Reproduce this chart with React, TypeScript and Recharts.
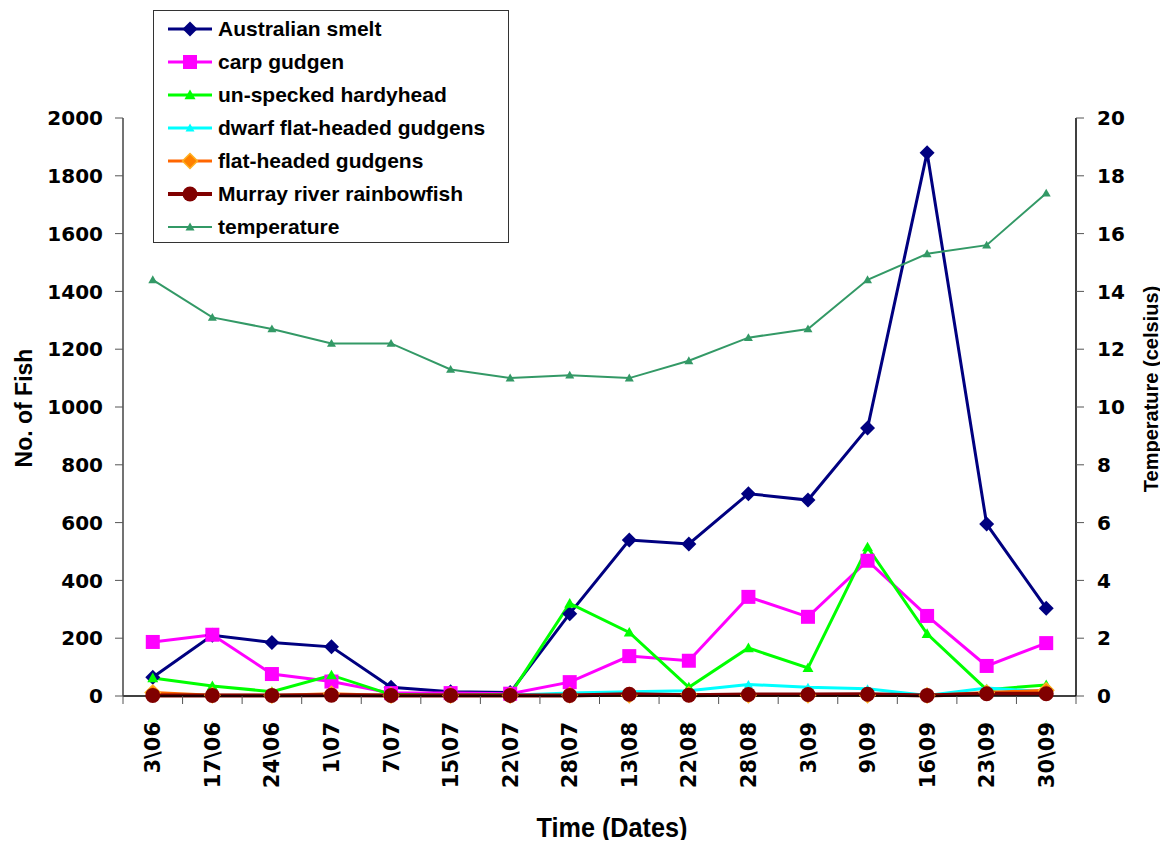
import React from 'react';
import { Legend, Line, LineChart, XAxis, YAxis } from 'recharts';

const dates = [
  '3\\06', '17\\06', '24\\06', '1\\07', '7\\07', '15\\07', '22\\07', '28\\07',
  '13\\08', '22\\08', '28\\08', '3\\09', '9\\09', '16\\09', '23\\09', '30\\09',
];

const australianSmelt = [65, 210, 185, 170, 30, 15, 12, 285, 540, 526, 700, 678, 927, 1880, 595, 304];
const carpGudgen = [187, 212, 76, 50, 10, 10, 8, 48, 138, 122, 343, 274, 468, 277, 104, 183];
const unspeckedHardyhead = [62, 35, 15, 72, 5, 3, 5, 320, 220, 30, 166, 97, 515, 215, 22, 38];
const dwarfFlatHeaded = [3, 2, 2, 3, 2, 2, 3, 10, 15, 18, 40, 30, 25, 2, 28, 15];
const flatHeaded = [12, 3, 2, 8, 2, 2, 2, 3, 3, 5, 3, 3, 3, 2, 12, 20];
const murrayRainbowfish = [2, 2, 2, 3, 2, 2, 2, 2, 6, 3, 5, 5, 6, 2, 8, 8];
const temperature = [14.4, 13.1, 12.7, 12.2, 12.2, 11.3, 11.0, 11.1, 11.0, 11.6, 12.4, 12.7, 14.4, 15.3, 15.6, 17.4];

const fishTicks = [0, 200, 400, 600, 800, 1000, 1200, 1400, 1600, 1800, 2000];
const tempTicks = [0, 2, 4, 6, 8, 10, 12, 14, 16, 18, 20];

type Shape = 'diamond' | 'square' | 'triangle' | 'circle';

interface SeriesDef {
  key: string;
  name: string;
  values: number[];
  color: string;
  width: number;
  shape: Shape;
  size: number;
  fill: string;
  stroke?: string;
  axis: 'fish' | 'temp';
}

const series: SeriesDef[] = [
  { key: 'smelt', name: 'Australian smelt', values: australianSmelt, color: '#000080', width: 3, shape: 'diamond', size: 15, fill: '#000080', axis: 'fish' },
  { key: 'carp', name: 'carp gudgen', values: carpGudgen, color: '#ff00ff', width: 3, shape: 'square', size: 14, fill: '#ff00ff', axis: 'fish' },
  { key: 'hardyhead', name: 'un-specked hardyhead', values: unspeckedHardyhead, color: '#00ff00', width: 3, shape: 'triangle', size: 11, fill: '#00ff00', axis: 'fish' },
  { key: 'dwarf', name: 'dwarf flat-headed gudgens', values: dwarfFlatHeaded, color: '#00ffff', width: 3, shape: 'triangle', size: 9, fill: '#00ffff', axis: 'fish' },
  { key: 'flat', name: 'flat-headed gudgens', values: flatHeaded, color: '#ff6600', width: 3, shape: 'diamond', size: 15, fill: '#ff8000', stroke: '#ffb020', axis: 'fish' },
  { key: 'murray', name: 'Murray river rainbowfish', values: murrayRainbowfish, color: '#800000', width: 4, shape: 'circle', size: 15, fill: '#800000', axis: 'fish' },
  { key: 'temp', name: 'temperature', values: temperature, color: '#339966', width: 2, shape: 'triangle', size: 9, fill: '#339966', axis: 'temp' },
];

const data = dates.map((date, i) => {
  const row: Record<string, string | number> = { date };
  series.forEach((s) => {
    row[s.key] = s.values[i];
  });
  return row;
});

const FONT = '"Liberation Sans", Arial, sans-serif';
const TICK_FONT = '"DejaVu Sans", sans-serif';
const LABEL_GAP = 26;

const Marker = ({ shape, cx, cy, size, fill, stroke }: {
  shape: Shape; cx: number; cy: number; size: number; fill: string; stroke?: string;
}) => {
  const h = size / 2;
  const common = { fill, stroke: stroke ?? fill, strokeWidth: stroke ? 1.5 : 0 };
  switch (shape) {
    case 'diamond':
      return <polygon points={`${cx},${cy - h} ${cx + h},${cy} ${cx},${cy + h} ${cx - h},${cy}`} {...common} />;
    case 'square':
      return <rect x={cx - h} y={cy - h} width={size} height={size} {...common} />;
    case 'triangle':
      return <polygon points={`${cx},${cy - h} ${cx + h},${cy + h * 0.75} ${cx - h},${cy + h * 0.75}`} {...common} />;
    default:
      return <circle cx={cx} cy={cy} r={h} {...common} />;
  }
};

// date label plus the small tick marks on the band edges either side of it
const DateTick = ({ x, y, payload, index }: any) => {
  const half = payload.offset ?? 0;
  const axisY = y - LABEL_GAP;
  return (
    <g>
      <line x1={x - half} y1={axisY} x2={x - half} y2={axisY + 8} stroke="#555" />
      {index === dates.length - 1 && (
        <line x1={x + half} y1={axisY} x2={x + half} y2={axisY + 8} stroke="#555" />
      )}
      <text
        transform={`translate(${x},${y}) rotate(-90)`}
        textAnchor="end"
        dy="0.36em"
        fontFamily={TICK_FONT}
        fontWeight="bold"
        fontSize={21}
        fill="#000"
      >
        {payload.value}
      </text>
    </g>
  );
};

const LegendBox = () => (
  <div
    style={{
      border: '1px solid #333',
      background: '#fff',
      padding: '1px 0 0 14px',
      width: 340,
      height: 230,
      fontFamily: FONT,
      fontWeight: 'bold',
      fontSize: 21,
      color: '#000',
    }}
  >
    {series.map((s) => (
      <div key={s.key} style={{ display: 'flex', alignItems: 'center', height: 33 }}>
        <svg width={46} height={20} style={{ marginRight: 4 }}>
          <line x1={0} y1={10} x2={44} y2={10} stroke={s.color} strokeWidth={s.width} />
          <Marker shape={s.shape} cx={22} cy={10} size={s.size} fill={s.fill} stroke={s.stroke} />
        </svg>
        <span>{s.name}</span>
      </div>
    ))}
  </div>
);

const tickStyle = { fontFamily: TICK_FONT, fontWeight: 'bold', fontSize: 20, fill: '#000' };

export default function App() {
  return (
    <div style={{ position: 'relative', width: 1160, height: 840, marginBottom: -8, overflow: 'hidden' }}>
      <LineChart
        width={1160}
        height={840}
        data={data}
        margin={{ top: 110, right: 22, bottom: 52, left: 45 }}
      >
        <XAxis
          xAxisId="date"
          dataKey="date"
          scale="band"
          interval={0}
          height={100}
          tickLine={false}
          tickSize={0}
          tickMargin={LABEL_GAP}
          axisLine={{ stroke: '#000', strokeWidth: 1.5 }}
          tick={<DateTick />}
        />
        <YAxis
          yAxisId="fish"
          domain={[0, 2000]}
          ticks={fishTicks}
          width={70}
          tickSize={8}
          tickMargin={12}
          axisLine={{ stroke: '#444', strokeWidth: 1.5 }}
          tickLine={{ stroke: '#555' }}
          tick={tickStyle}
        />
        <YAxis
          yAxisId="temp"
          orientation="right"
          domain={[0, 20]}
          ticks={tempTicks}
          width={70}
          tickSize={8}
          tickMargin={13}
          axisLine={{ stroke: '#000', strokeWidth: 1.5 }}
          tickLine={{ stroke: '#555' }}
          tick={tickStyle}
        />
        <Legend
          layout="vertical"
          align="center"
          verticalAlign="middle"
          wrapperStyle={{ left: 145, top: 2, width: 356, height: 232 }}
          content={() => <LegendBox />}
        />
        {series.map((s) => (
          <Line
            key={s.key}
            name={s.name}
            dataKey={s.key}
            xAxisId="date"
            yAxisId={s.axis}
            type="linear"
            stroke={s.color}
            strokeWidth={s.width}
            isAnimationActive={false}
            activeDot={false}
            dot={(p: any) =>
              p.cx == null || p.cy == null ? (
                <g key={`${s.key}-${p.index}`} />
              ) : (
                <Marker
                  key={`${s.key}-${p.index}`}
                  shape={s.shape}
                  cx={p.cx}
                  cy={p.cy}
                  size={s.size}
                  fill={s.fill}
                  stroke={s.stroke}
                />
              )
            }
          />
        ))}
      </LineChart>
      <div
        style={{
          position: 'absolute',
          left: 16,
          top: 400,
          transform: 'translate(-50%, -50%) rotate(-90deg)',
          fontFamily: FONT,
          fontWeight: 'bold',
          fontSize: 23,
          whiteSpace: 'nowrap',
        }}
      >
        No. of Fish
      </div>
      <div
        style={{
          position: 'absolute',
          left: 1143,
          top: 381,
          transform: 'translate(-50%, -50%) rotate(-90deg)',
          fontFamily: FONT,
          fontWeight: 'bold',
          fontSize: 20,
          lineHeight: '22px',
          whiteSpace: 'nowrap',
        }}
      >
        Temperature (celsius)
      </div>
      <div
        style={{
          position: 'absolute',
          left: 604,
          top: 820,
          transform: 'translate(-50%, -50%) scaleX(0.9)',
          fontFamily: FONT,
          fontWeight: 'bold',
          fontSize: 28,
          lineHeight: '30px',
          whiteSpace: 'nowrap',
        }}
      >
        Time (Dates)
      </div>
    </div>
  );
}
